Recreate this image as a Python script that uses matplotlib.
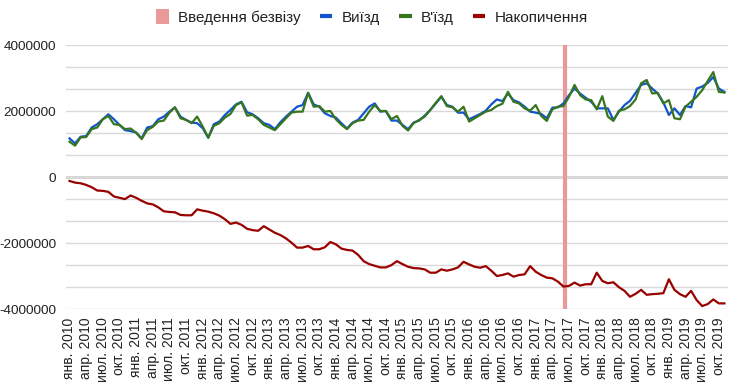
import numpy as np
import pandas as pd
import matplotlib
matplotlib.use("Agg")
import matplotlib.pyplot as plt
from matplotlib.lines import Line2D
from matplotlib.patches import Patch

plt.rcParams['font.family'] = ['Liberation Sans', 'DejaVu Sans']

start_month = "2010-01"
bezviz_date = "2017-06-11"

# monthly values, Jan 2010 .. Nov 2019
exit_vals = [1.17, 1.02, 1.22, 1.24, 1.50, 1.60, 1.75, 1.90, 1.75, 1.58,
             1.42, 1.39, 1.35, 1.17, 1.50, 1.54, 1.75, 1.83, 1.98, 2.11,
             1.83, 1.73, 1.65, 1.63, 1.48, 1.19, 1.60, 1.68, 1.88, 2.03,
             2.20, 2.28, 1.96, 1.90, 1.78, 1.63, 1.58, 1.45, 1.66, 1.83,
             1.98, 2.13, 2.18, 2.55, 2.20, 2.13, 1.93, 1.85, 1.80, 1.63,
             1.47, 1.65, 1.73, 1.93, 2.13, 2.23, 1.98, 2.00, 1.71, 1.71,
             1.58, 1.45, 1.65, 1.71, 1.86, 2.03, 2.23, 2.43, 2.18, 2.13,
             1.95, 1.95, 1.75, 1.83, 1.91, 2.01, 2.20, 2.35, 2.30, 2.53,
             2.33, 2.26, 2.13, 1.98, 1.95, 1.91, 1.78, 2.10, 2.11, 2.23,
             2.48, 2.68, 2.53, 2.40, 2.28, 2.08, 2.08, 2.08, 1.73, 1.98,
             2.18, 2.31, 2.55, 2.79, 2.84, 2.68, 2.53, 2.26, 1.88, 2.08,
             1.88, 2.15, 2.11, 2.68, 2.74, 2.85, 3.03, 2.68, 2.58]
entry_vals = [1.07, 0.95, 1.20, 1.21, 1.45, 1.50, 1.75, 1.85, 1.60, 1.58,
              1.45, 1.47, 1.34, 1.15, 1.42, 1.52, 1.68, 1.71, 1.95, 2.11,
              1.78, 1.73, 1.63, 1.83, 1.53, 1.19, 1.55, 1.63, 1.80, 1.91,
              2.18, 2.26, 1.86, 1.88, 1.75, 1.58, 1.50, 1.42, 1.60, 1.78,
              1.95, 1.98, 1.98, 2.55, 2.13, 2.15, 1.98, 2.00, 1.75, 1.58,
              1.45, 1.63, 1.71, 1.73, 1.98, 2.18, 2.00, 2.00, 1.75, 1.85,
              1.55, 1.41, 1.63, 1.73, 1.83, 2.03, 2.25, 2.45, 2.15, 2.11,
              1.98, 2.13, 1.68, 1.78, 1.88, 1.98, 2.03, 2.15, 2.22, 2.58,
              2.28, 2.23, 2.08, 2.01, 2.18, 1.85, 1.70, 2.05, 2.13, 2.15,
              2.43, 2.79, 2.48, 2.35, 2.33, 2.05, 2.45, 1.83, 1.70, 2.01,
              2.05, 2.15, 2.35, 2.84, 2.94, 2.53, 2.55, 2.23, 2.33, 1.78,
              1.75, 2.13, 2.28, 2.43, 2.63, 2.91, 3.18, 2.58, 2.56]
accum_vals = [-0.12, -0.17, -0.19, -0.24, -0.31, -0.41, -0.42, -0.45, -0.59, -0.63,
              -0.67, -0.56, -0.63, -0.72, -0.80, -0.83, -0.92, -1.04, -1.06, -1.07,
              -1.15, -1.16, -1.16, -0.98, -1.02, -1.05, -1.10, -1.17, -1.28, -1.42,
              -1.38, -1.45, -1.57, -1.61, -1.63, -1.49, -1.59, -1.69, -1.76, -1.86,
              -1.99, -2.14, -2.14, -2.09, -2.19, -2.19, -2.13, -1.97, -2.04, -2.17,
              -2.21, -2.23, -2.36, -2.55, -2.64, -2.69, -2.74, -2.74, -2.67, -2.55,
              -2.64, -2.72, -2.76, -2.77, -2.80, -2.90, -2.90, -2.80, -2.84, -2.80,
              -2.74, -2.57, -2.65, -2.72, -2.75, -2.70, -2.84, -3.00, -2.97, -2.92,
              -3.02, -2.97, -2.95, -2.70, -2.87, -2.97, -3.05, -3.07, -3.17, -3.32,
              -3.30, -3.20, -3.29, -3.25, -3.25, -2.90, -3.15, -3.22, -3.19, -3.34,
              -3.45, -3.63, -3.54, -3.42, -3.57, -3.55, -3.54, -3.52, -3.10, -3.42,
              -3.55, -3.63, -3.45, -3.73, -3.91, -3.85, -3.71, -3.83, -3.83]

month_abbr = ["янв.", "апр.", "июл.", "окт."]
years = list(range(2010, 2020))

legend_labels = ["Введення безвізу", "Виїзд", "В'їзд", "Накопичення"]
colors = {"bezviz": "#ea9999", "exit": "#1155cc", "entry": "#38761d", "accum": "#990000"}

# ---- derived
n = len(exit_vals)
x = np.arange(n)
scale = 1e6
exit_arr = np.array(exit_vals) * scale
entry_arr = np.array(entry_vals) * scale
accum_arr = np.array(accum_vals) * scale

start = pd.Timestamp(start_month)
bz = pd.Timestamp(bezviz_date)
bz_x = (bz.year - start.year) * 12 + (bz.month - start.month) + (bz.day - 1) / bz.days_in_month

tick_pos = np.arange(0, n, 3)
tick_labels = [f"{month_abbr[k % 4]} {years[k // 4]}" for k in range(len(tick_pos))]

fig = plt.figure(figsize=(7.4, 3.87), dpi=100)
ax = fig.add_axes([66 / 740, 1 - 309 / 387, 662 / 740, 264 / 387])

ax.set_ylim(-4e6, 4e6)
ax.set_xlim(-0.63, 118.65)

# gridlines
ax.set_yticks(np.arange(-4e6, 4e6 + 1, 2e6))
ax.set_yticks(np.linspace(-4e6, 4e6, 13), minor=True)
ax.grid(axis='y', which='both', color='#d9d9d9', linewidth=1.0, zorder=0)
ax.axhline(0, color='#333333', linewidth=1.0, zorder=1)

ax.axvline(bz_x, color=colors["bezviz"], linewidth=3.0, zorder=2)
ax.plot(x, exit_arr, color=colors["exit"], linewidth=1.6, zorder=3, solid_joinstyle='round')
ax.plot(x, entry_arr, color=colors["entry"], linewidth=1.6, zorder=4, solid_joinstyle='round')
ax.plot(x, accum_arr, color=colors["accum"], linewidth=1.6, zorder=4, solid_joinstyle='round')

ax.set_yticklabels([f"{int(v)}" for v in np.arange(-4e6, 4e6 + 1, 2e6)])
ax.set_xticks(tick_pos)
ax.set_xticklabels(tick_labels, rotation=90, va='top', ha='center')
ax.tick_params(axis='both', which='both', length=0, labelcolor='#222222')
ax.tick_params(axis='x', pad=6, labelsize=10)
ax.tick_params(axis='y', pad=7, labelsize=9.7)
for s in ax.spines.values():
    s.set_visible(False)

handles = [
    Patch(facecolor=colors["bezviz"], edgecolor='none'),
    Line2D([0], [0], color=colors["exit"], linewidth=3, solid_capstyle='butt'),
    Line2D([0], [0], color=colors["entry"], linewidth=3, solid_capstyle='butt'),
    Line2D([0], [0], color=colors["accum"], linewidth=3, solid_capstyle='butt'),
]
fig.legend(handles, legend_labels, loc='center', bbox_to_anchor=(372 / 740, 1 - 17 / 387),
           ncol=4, frameon=False, prop={'size': 11},
           handlelength=0.83, handleheight=1.15,
           handletextpad=0.6, columnspacing=1.24, borderpad=0, borderaxespad=0,
           labelcolor='#222222')

fig.savefig("out.png", dpi=100)
